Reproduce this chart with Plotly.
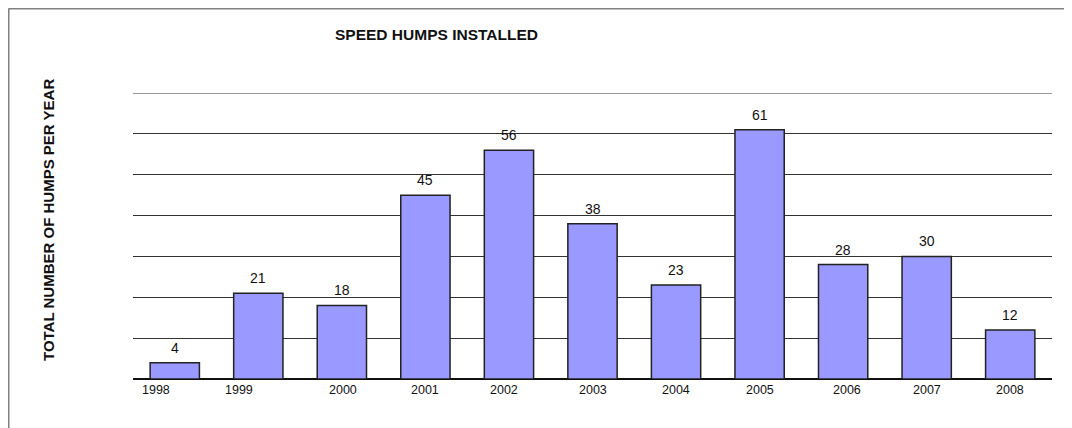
import plotly.graph_objects as go

years = ["1998", "1999", "2000", "2001", "2002", "2003", "2004", "2005", "2006", "2007", "2008"]
humps = [4, 21, 18, 45, 56, 38, 23, 61, 28, 30, 12]

OFF = 8  # browser body margin
W, H = 1072 - OFF, 428 - OFF
L, R, T, B = 133 - OFF, 1072 - 1052, 93 - OFF, 428 - 379
pw, ph = W - L - R, H - T - B

def px(x):
    return (x - OFF - L) / pw

def py(y):
    return (H - B - (y - OFF)) / ph

font = "Liberation Sans, Arial, sans-serif"
idx = list(range(len(years)))
# small horizontal offsets of some category labels, as in the original
label_shift = {0: -19, 1: -19, 2: 1, 4: -5, 8: 4}

fig = go.Figure(go.Bar(
    x=idx, y=humps,
    marker=dict(color="#9999FF", line=dict(color="#222222", width=1.5)),
    width=0.59,
))

for i, v in zip(idx, humps):
    fig.add_annotation(x=i, y=v, xref="x", yref="y", text=str(v), showarrow=False, yanchor="bottom",
                       xanchor="center", yshift=5, font=dict(size=14, color="#111111", family=font))

for i, yr in zip(idx, years):
    fig.add_annotation(x=i, y=0, xref="x", yref="y", text=yr, showarrow=False, yanchor="top",
                       xanchor="center", yshift=-2, xshift=label_shift.get(i, 0),
                       font=dict(size=12.5, color="#111111", family=font))

fig.add_annotation(x=px(436), y=py(34), xref="paper", yref="paper", text="<b>SPEED HUMPS INSTALLED</b>",
                   xanchor="center", yanchor="middle",
                   showarrow=False, font=dict(size=15.5, color="#111111", family=font))
fig.add_annotation(x=px(48), y=py(220), xref="paper", yref="paper", text="<b>TOTAL NUMBER OF HUMPS PER YEAR</b>",
                   xanchor="center", yanchor="middle",
                   showarrow=False, textangle=-90, font=dict(size=15, color="#111111", family=font))

# outer frame (top and left visible)
fig.add_shape(type="line", xref="paper", yref="paper", x0=px(8.5), x1=px(1090), y0=py(8.5), y1=py(8.5),
              line=dict(color="#808080", width=2))
fig.add_shape(type="line", xref="paper", yref="paper", x0=px(8.5), x1=px(8.5), y0=py(8.5), y1=py(450),
              line=dict(color="#808080", width=2))
# top gridline at 70
fig.add_shape(type="line", xref="paper", yref="y", x0=0, x1=1, y0=70, y1=70,
              line=dict(color="#333333", width=1))

fig.update_layout(
    width=W, height=H,
    margin=dict(l=L, r=R, t=T, b=B),
    paper_bgcolor="white", plot_bgcolor="white",
    showlegend=False,
    font=dict(family=font, color="#111111"),
    xaxis=dict(range=[-0.5, len(years) - 0.5], showticklabels=False,
               showgrid=False, showline=False, zeroline=False, ticks=""),
    yaxis=dict(range=[0, 70], dtick=10, showticklabels=False, showgrid=True,
               gridcolor="#333333", gridwidth=1, zeroline=True, zerolinecolor="#111111",
               zerolinewidth=1.5, showline=False, ticks=""),
)

fig.write_html("out.html")
